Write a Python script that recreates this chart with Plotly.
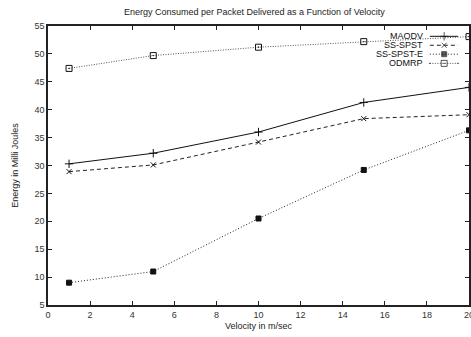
import plotly.graph_objects as go

velocity = [1, 5, 10, 15, 20]
maodv = [30.3, 32.2, 36.0, 41.3, 44.0]
ss_spst = [28.9, 30.1, 34.2, 38.4, 39.1]
ss_spst_e = [9.0, 11.0, 20.5, 29.2, 36.3]
odmrp = [47.4, 49.7, 51.2, 52.2, 53.1]

series_names = ["MAODV", "SS-SPST", "SS-SPST-E", "ODMRP"]
series_values = [maodv, ss_spst, ss_spst_e, odmrp]
styles = [
    dict(dash="solid", color="#111111", symbol="cross-thin", size=6),
    dict(dash="4px,3px", color="#222222", symbol="x-thin", size=5),
    dict(dash="1px,2px", color="#222222", symbol="square", size=5),
    dict(dash="1px,1.5px", color="#555555", symbol="square-open-dot", size=6),
]

fig = go.Figure()
for name, vals, st in zip(series_names, series_values, styles):
    fig.add_trace(go.Scatter(
        x=velocity, y=vals, mode="lines+markers", name=name,
        line=dict(color=st["color"], width=1, dash=st["dash"]),
        marker=dict(symbol=st["symbol"], size=st["size"], color="#111111",
                    line=dict(color="#111111", width=1)),
        cliponaxis=False, showlegend=False,
    ))

# manual legend (gnuplot style: text then sample on the right)
row_y = [0.963, 0.931, 0.899, 0.866]
for name, st, yy in zip(series_names, styles, row_y):
    fig.add_annotation(text=name, xref="paper", yref="paper", x=0.895, y=yy,
                       xanchor="right", yanchor="middle", showarrow=False,
                       font=dict(family="Liberation Sans", size=9, color="#111111"))
    fig.add_trace(go.Scatter(
        x=[0.907, 0.941, 0.974], y=[yy, yy, yy], xaxis="x2", yaxis="y2",
        mode="lines+markers",
        line=dict(color=st["color"], width=1, dash=st["dash"]),
        marker=dict(symbol=st["symbol"], size=[0, st["size"], 0], color="#111111",
                    line=dict(color="#111111", width=1)),
        showlegend=False, hoverinfo="skip", cliponaxis=False,
    ))

axis_common = dict(
    showline=True, linecolor="#222222", linewidth=1.5, mirror="ticks",
    ticks="inside", ticklen=4, tickcolor="#222222", tickwidth=1,
    showgrid=False, zeroline=False, ticklabeloverflow="allow", automargin=False,
    tickfont=dict(family="Liberation Sans", size=9, color="#333333"),
)

fig.update_layout(
    width=471, height=337,
    margin=dict(l=48, r=2, t=26, b=32),
    paper_bgcolor="white", plot_bgcolor="white",
    title=dict(text="Energy Consumed per Packet Delivered as a Function of Velocity",
               x=0.54, xanchor="center", y=0.965, yanchor="middle",
               font=dict(family="Liberation Sans", size=9, color="#222222")),
    xaxis=dict(range=[0, 20], dtick=2,
               title=dict(text="Velocity in m/sec", standoff=4,
                          font=dict(family="Liberation Sans", size=9, color="#222222")),
               **axis_common),
    yaxis=dict(range=[5, 55], dtick=5,
               title=dict(text="Energy in Milli Joules", standoff=14,
                          font=dict(family="Liberation Sans", size=9, color="#222222")),
               **axis_common),
    xaxis2=dict(range=[0, 1], overlaying="x", visible=False, fixedrange=True),
    yaxis2=dict(range=[0, 1], overlaying="y", visible=False, fixedrange=True),
)

fig.write_html("out.html", config={"displayModeBar": False},
               post_script="document.body.style.margin='0';document.body.style.overflow='hidden';")
